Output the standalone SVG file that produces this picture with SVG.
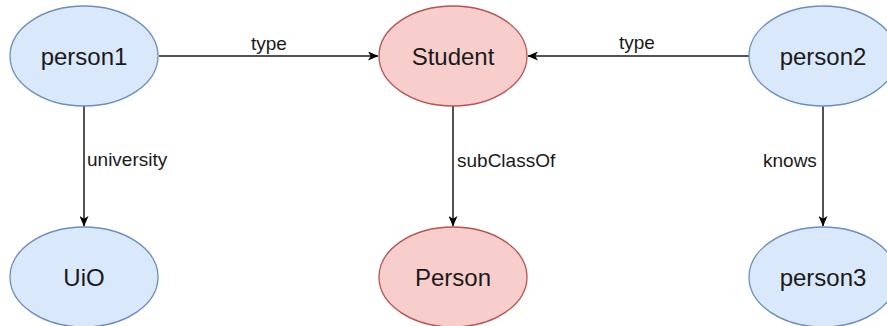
<svg xmlns="http://www.w3.org/2000/svg" width="887" height="326" viewBox="0 0 887 326">
<style>
.blue{fill:#dae8fc;stroke:#6c8ebf;stroke-width:1.3}
.red{fill:#f8cecc;stroke:#b85450;stroke-width:1.3}
.nl{font-family:"Liberation Sans",Arial,sans-serif;font-size:24px;fill:#1a1a1a;text-anchor:middle}
.el{font-family:"Liberation Sans",Arial,sans-serif;font-size:19px;fill:#1a1a1a}
.edge{stroke:#1a1a1a;stroke-width:1.5;fill:none;marker-end:url(#arr)}
</style>
<defs>
<marker id="arr" markerWidth="11" markerHeight="9" refX="10" refY="4.5" orient="auto" markerUnits="userSpaceOnUse">
<path d="M0,0 L10.5,4.5 L0,9 L2.8,4.5 Z" fill="#000"/>
</marker>
</defs>
<rect width="887" height="326" fill="#fff"/>
<g id="connectors">
<path class="edge" d="M159,56 L378,56"/>
<path class="edge" d="M749,56 L528,56"/>
<path class="edge" d="M84,106 L84,226"/>
<path class="edge" d="M453,106 L453,226"/>
<path class="edge" d="M823,106 L823,226"/>
<text class="el" x="251" y="50">type</text>
<text class="el" x="619" y="49">type</text>
<text class="el" x="87" y="166">university</text>
<text class="el" x="457" y="167">subClassOf</text>
<text class="el" x="763" y="167">knows</text>
</g>
<g id="person1"><ellipse class="blue" cx="84" cy="56" rx="74" ry="50"/><text class="nl" x="84" y="65">person1</text></g>
<g id="Student"><ellipse class="red" cx="453" cy="56" rx="74" ry="50"/><text class="nl" x="453" y="65">Student</text></g>
<g id="person2"><ellipse class="blue" cx="823" cy="56" rx="74" ry="50"/><text class="nl" x="823" y="65">person2</text></g>
<g id="UiO"><ellipse class="blue" cx="84" cy="277" rx="74" ry="50"/><text class="nl" x="84" y="286">UiO</text></g>
<g id="Person"><ellipse class="red" cx="453" cy="277" rx="74" ry="50"/><text class="nl" x="453" y="286">Person</text></g>
<g id="person3"><ellipse class="blue" cx="823" cy="277" rx="74" ry="50"/><text class="nl" x="823" y="286">person3</text></g>
</svg>
